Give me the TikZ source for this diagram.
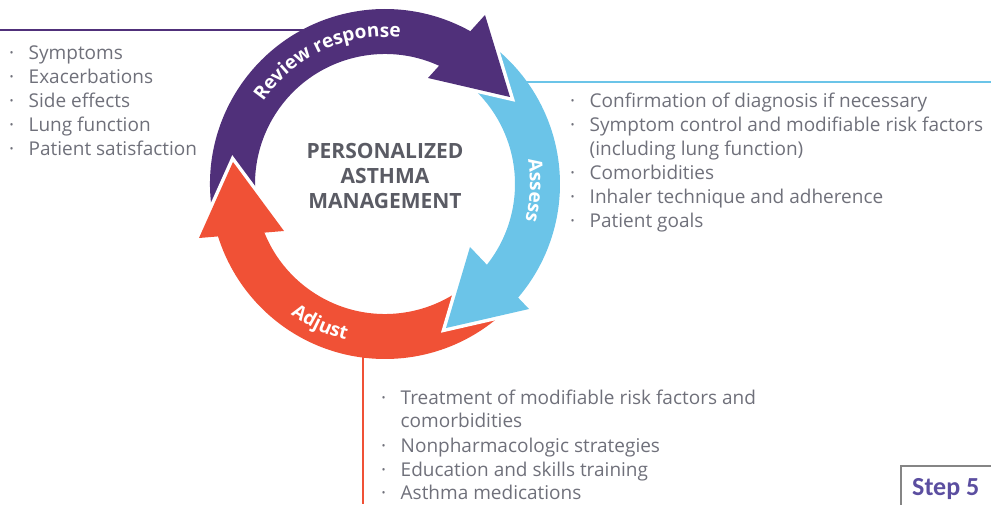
\documentclass[tikz,border=0pt]{standalone}
\usepackage{fontspec}
\setmainfont{Open Sans}
\newfontfamily\stepfont{Carlito}
\usetikzlibrary{decorations.text,calc}

\definecolor{revpurple}{HTML}{50307A}
\definecolor{assessblue}{HTML}{6BC4E8}
\definecolor{adjustred}{HTML}{F05136}
\definecolor{bodygray}{HTML}{6F707A}
\definecolor{titlegray}{HTML}{5A5B64}
\definecolor{stepviolet}{HTML}{5B4EA0}
\definecolor{boxgray}{HTML}{858585}

% list item with a small centred dot, and an indented continuation line
\newcommand\itm[1]{\makebox[19.5pt][l]{·}#1}
\newcommand\cont[1]{\hspace*{19.5pt}#1}

% one coloured section of the ring, from angle #2 clockwise to angle #3
\newcommand\ringband[3]{%
  \fill[#1] ([shift={(#2:175)}]C) arc[start angle=#2, end angle=#3, radius=175]
    -- ([shift={(#3:130)}]C) arc[start angle=#3, end angle=#2, radius=130] -- cycle;}

\begin{document}
\begin{tikzpicture}[x=1pt,y=1pt,
  listtext/.style={anchor=base west, inner sep=0pt, text=bodygray,
    font=\fontsize{19}{24}\selectfont},
  guide/.style={line width=2.2pt},
  halo/.style={draw=white, line width=7pt, line join=miter},
  bandlabel/.style={decorate, decoration={text along path, text align=center,
    text={|\fontsize{19}{19}\selectfont\bfseries\color{white}|#1}}}
]
\useasboundingbox (0,0) rectangle (991,504);
\coordinate (C) at (385,320);

% guide lines leading from the ring to each list
\coordinate (rev-a) at (0,474);
\coordinate (rev-b) at (320,474);
\coordinate (ass-a) at (520,422);
\coordinate (ass-b) at (991,422);
\coordinate (adj-a) at (363,170);
\coordinate (adj-b) at (363,0);
\draw[guide, revpurple] (rev-a) -- (rev-b);
\draw[guide, assessblue] (ass-a) -- (ass-b);
\draw[guide, adjustred] (adj-a) -- (adj-b);

% ring sections
\ringband{revpurple}{191}{58}
\ringband{assessblue}{55}{-42}
\ringband{adjustred}{-47}{-167}

% arrow heads
\coordinate (pur-o) at (485,489);
\coordinate (pur-t) at (510,407);
\coordinate (pur-i) at (428,426);
\coordinate (blu-i) at (470,257);
\coordinate (blu-o) at (529,195);
\coordinate (blu-t) at (446,176);
\coordinate (red-o) at (199,266);
\coordinate (red-i) at (284,273);
\coordinate (red-t) at (233,342);

\path[halo] (pur-o) -- (pur-t) -- (pur-i);
\fill[revpurple] (pur-o) -- (pur-t) -- (pur-i) -- cycle;
\path[halo] (blu-i) -- (blu-t) -- (blu-o);
\fill[assessblue] (blu-i) -- (blu-t) -- (blu-o) -- cycle;
\path[halo] (red-o) -- (red-t) -- (red-i);
\fill[adjustred] (red-o) -- (red-t) -- (red-i) -- cycle;

% labels along the ring
\path[bandlabel={Review response}] ([shift={(175:147)}]C) arc[start angle=175, end angle=55, radius=147];
\path[bandlabel=Assess] ([shift={(40:145)}]C) arc[start angle=40, end angle=-45, radius=145];
\path[bandlabel=Adjust] ([shift={(205:161)}]C) arc[start angle=205, end angle=285, radius=161];

% centre title
\node[anchor=base, inner sep=0pt, text=titlegray, font=\fontsize{21}{25}\selectfont\bfseries]
  (title) at (385,345) {\begin{tabular}[t]{@{}c@{}}PERSONALIZED\\ASTHMA\\MANAGEMENT\end{tabular}};

% lists
\node[listtext] (review-list) at (9,444) {\begin{tabular}[t]{@{}l@{}}
  \itm{Symptoms}\\
  \itm{Exacerbations}\\
  \itm{Side effects}\\
  \itm{Lung function}\\
  \itm{Patient satisfaction}
\end{tabular}};

\node[listtext] (assess-list) at (570,396) {\begin{tabular}[t]{@{}l@{}}
  \itm{Confirmation of diagnosis if necessary}\\
  \itm{Symptom control and modifiable risk factors}\\
  \cont{(including lung function)}\\
  \itm{Comorbidities}\\
  \itm{Inhaler technique and adherence}\\
  \itm{Patient goals}
\end{tabular}};

\node[listtext] (adjust-list) at (381,100) {\begin{tabular}[t]{@{}l@{}}
  \itm{Treatment of modifiable risk factors and}\\
  \cont{comorbidities}\\
  \itm{Nonpharmacologic strategies}\\
  \itm{Education and skills training}\\
  \itm{Asthma medications}
\end{tabular}};

% step tab
\draw[boxgray, line width=2pt] (901,38) rectangle (1000,-10);
\node[anchor=base west, inner sep=0pt, text=stepviolet,
  font=\stepfont\bfseries\fontsize{26}{26}\selectfont] (step) at (912,9) {Step 5};
\end{tikzpicture}
\end{document}
